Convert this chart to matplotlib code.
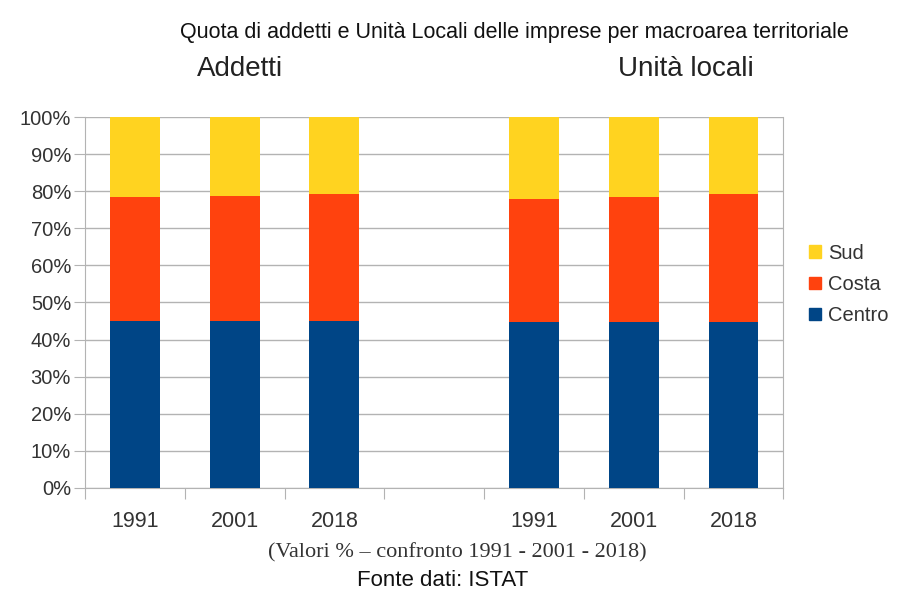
import numpy as np
import matplotlib.pyplot as plt
from matplotlib.patches import Patch

# Categories: two groups of years with an empty slot between them
categories = ["1991", "2001", "2018", "", "1991", "2001", "2018"]

# Shares in percent
centro = [45.0, 45.0, 45.0, np.nan, 44.6, 44.6, 44.8]
costa = [33.5, 33.7, 34.2, np.nan, 33.4, 33.9, 34.4]
sud = [21.5, 21.3, 20.8, np.nan, 22.0, 21.5, 20.8]

series_names = ["Centro", "Costa", "Sud"]
colors = {"Centro": "#004586", "Costa": "#ff420e", "Sud": "#ffd320"}

plt.rcParams['font.family'] = ['Liberation Sans', 'DejaVu Sans']

fig = plt.figure(figsize=(9, 5.99), dpi=100)
ax = fig.add_axes([0.0944, 0.186, 0.776, 0.618])

x = np.arange(len(categories))
bottom = np.zeros(len(categories))
for name, vals in zip(series_names, [centro, costa, sud]):
    v = np.nan_to_num(np.array(vals, dtype=float))
    ax.bar(x, v, width=0.5, bottom=bottom, color=colors[name], linewidth=0, zorder=3)
    bottom += v

ax.set_xlim(-0.5, len(categories) - 0.5)
ax.set_ylim(0, 100)
ax.set_yticks(np.arange(0, 101, 10))
ax.set_yticklabels([f"{t}%" for t in range(0, 101, 10)], fontsize=14.5, color="#333333")
ax.yaxis.grid(True, color="#b3b3b3", linewidth=1, zorder=0)
ax.tick_params(axis="y", length=8, color="#b3b3b3", pad=2)

# category boundaries as ticks, labels at centres
ax.set_xticks(np.arange(-0.5, len(categories), 1.0))
ax.set_xticklabels([])
ax.set_xticks(x, minor=True)
ax.set_xticklabels(categories, minor=True, fontsize=15.5, color="#333333")
ax.tick_params(axis="x", which="major", length=8, color="#b3b3b3")
ax.tick_params(axis="x", which="minor", length=0, pad=17)

for s in ["left", "right", "bottom"]:
    ax.spines[s].set_color("#b3b3b3")
ax.spines["top"].set_visible(False)

handles = [Patch(color=colors[n]) for n in ["Sud", "Costa", "Centro"]]
fig.legend(handles, ["Sud", "Costa", "Centro"], loc="center left",
           bbox_to_anchor=(0.879, 0.525), frameon=False, fontsize=14.5,
           handlelength=0.6, handleheight=0.6, handletextpad=0.35,
           labelspacing=0.6, labelcolor="#333333")

fig.text(0.572, 0.946, "Quota di addetti e Unità Locali delle imprese per macroarea territoriale",
         ha="center", va="center", fontsize=15.5, color="#111111")
fig.text(0.267, 0.885, "Addetti", ha="center", va="center", fontsize=20, color="#222222")
fig.text(0.762, 0.885, "Unità locali", ha="center", va="center", fontsize=20, color="#222222")

fig.text(0.508, 0.078, "(Valori % – confronto 1991 - 2001 - 2018)", ha="center", va="center",
         fontsize=16, family=['Liberation Serif', 'DejaVu Serif'], color="#333333")
fig.text(0.492, 0.031, "Fonte dati: ISTAT", ha="center", va="center", fontsize=16, color="#111111")

fig.savefig("out.png", dpi=100)
